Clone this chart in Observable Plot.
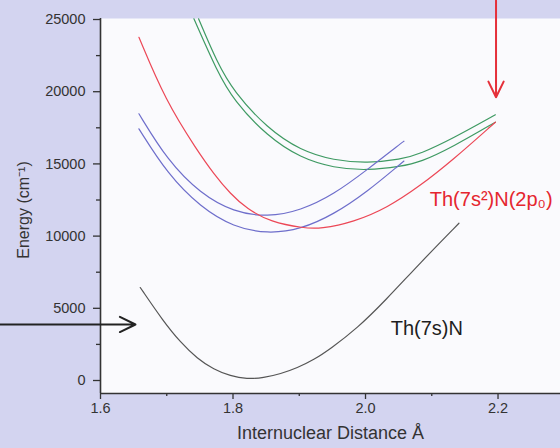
<!DOCTYPE html>
<html>
<head>
<meta charset="utf-8">
<script src="https://cdn.jsdelivr.net/npm/d3@7"></script>
<script src="https://cdn.jsdelivr.net/npm/@observablehq/plot@0.6"></script>
<style>
html, body { margin: 0; padding: 0; background: #d3d4f0; }
#chart svg { display: block; }
</style>
</head>
<body>
<div id="chart"></div>
<script>
// ---- Data ----
const xTicks = [1.6, 1.8, 2.0, 2.2];
const xMinorTicks = [1.7, 1.9, 2.1];
const yTicks = [0, 5000, 10000, 15000, 20000, 25000];
const yMinorTicks = [2500, 7500, 12500, 17500, 22500];

// Th(7s)N ground state (black)
const groundX = [1.660, 1.695, 1.721, 1.746, 1.771, 1.796, 1.821, 1.846, 1.872, 1.897, 1.922, 1.947, 1.988, 2.030, 2.083, 2.141];
const groundY = [6440, 4090, 2630, 1520, 760, 310, 100, 185, 464, 879, 1440, 2195, 3640, 5540, 8170, 10890];

// Th(7s2)N(2p0) (red)
const redX = [1.658, 1.698, 1.746, 1.771, 1.796, 1.821, 1.857, 1.907, 1.932, 1.982, 2.033, 2.083, 2.131, 2.196];
const redY = [23770, 19390, 15930, 14310, 12930, 11890, 10970, 10550, 10500, 10970, 11960, 13500, 15240, 17890];

// blue states
const blueUpperX = [1.658, 1.701, 1.751, 1.801, 1.852, 1.902, 1.952, 2.003, 2.053, 2.058];
const blueUpperY = [18470, 15240, 12930, 11660, 11320, 11770, 12880, 14610, 16410, 16570];
const blueLowerX = [1.658, 1.701, 1.751, 1.801, 1.852, 1.902, 1.952, 2.003, 2.053, 2.058];
const blueLowerY = [17430, 14310, 12000, 10620, 10160, 10460, 11500, 13090, 15010, 15200];

// green states
const greenUpperX = [1.748, 1.776, 1.801, 1.852, 1.902, 1.952, 2.003, 2.053, 2.083, 2.131, 2.196];
const greenUpperY = [25050, 22020, 20010, 17450, 15930, 15240, 15060, 15300, 15700, 16740, 18400];
const greenLowerX = [1.741, 1.776, 1.801, 1.852, 1.902, 1.952, 2.003, 2.053, 2.083, 2.131, 2.196];
const greenLowerY = [25050, 21400, 19390, 16900, 15410, 14720, 14540, 14820, 15120, 16160, 17890];

const stateLabels = ["Th(7s)N", "Th(7s²)N(2p₀)"];
const xTitle = "Internuclear Distance Å";
const yTitle = "Energy (cm⁻¹)";

// ---- Build tables ----
const toRows = (xs, ys) => xs.map((x, i) => ({x, y: ys[i]}));

const lineOpts = {x: "x", y: "y", curve: "basis", strokeWidth: 1.2};
const axisColor = "#333";

const chart = Plot.plot({
  width: 560,
  height: 448,
  marginLeft: 100,
  marginRight: 0,
  marginTop: 18,
  marginBottom: 55,
  x: {domain: [1.6, 2.2943], axis: null},
  y: {domain: [-900, 25070], axis: null},
  style: {
    background: "#d3d4f0",
    fontFamily: "'Liberation Sans', Arial, Helvetica, sans-serif",
    fontSize: "14px",
    color: axisColor
  },
  marks: [
    Plot.frame({fill: "#fafafd", stroke: null}),
    // axis ticks
    Plot.axisY(yTicks, {tickSize: 7, tickFormat: () => "", label: null, stroke: axisColor, strokeWidth: 1.3}),
    Plot.axisY(yMinorTicks, {tickSize: 4, tickFormat: () => "", label: null, stroke: axisColor, strokeWidth: 1.3}),
    Plot.axisX(xTicks, {tickSize: 6, tickFormat: () => "", label: null, stroke: axisColor, strokeWidth: 1.3}),
    Plot.axisX(xMinorTicks, {tickSize: 3, tickFormat: () => "", label: null, stroke: axisColor, strokeWidth: 1.3}),
    Plot.ruleX([1.6], {stroke: axisColor, strokeWidth: 1.6}),
    Plot.ruleY([-900], {stroke: axisColor, strokeWidth: 1.6}),
    // tick labels
    Plot.text(yTicks, {y: d => d, text: d => d3.format("d")(d), frameAnchor: "left", dx: -15, textAnchor: "end", fontSize: 14.5, fill: axisColor}),
    Plot.text(xTicks, {x: d => d, text: d => d3.format(".1f")(d), frameAnchor: "bottom", dy: 19, fontSize: 14.5, fill: axisColor}),
    // axis titles
    Plot.text([yTitle], {frameAnchor: "left", rotate: -90, dx: -77, dy: 4, fontSize: 16, fill: axisColor, textAnchor: "middle"}),
    Plot.text([xTitle], {frameAnchor: "bottom", dy: 45, fontSize: 18, fill: axisColor, textAnchor: "middle"}),
    // curves
    Plot.line(toRows(greenUpperX, greenUpperY), {...lineOpts, stroke: "#3f9a63"}),
    Plot.line(toRows(greenLowerX, greenLowerY), {...lineOpts, stroke: "#3f9a63"}),
    Plot.line(toRows(blueUpperX, blueUpperY), {...lineOpts, stroke: "#6e6ecb"}),
    Plot.line(toRows(blueLowerX, blueLowerY), {...lineOpts, stroke: "#6e6ecb"}),
    Plot.line(toRows(redX, redY), {...lineOpts, stroke: "#ec4756"}),
    Plot.line(toRows(groundX, groundY), {...lineOpts, stroke: "#555"}),
    // arrows
    Plot.arrow([0], {x1: 1.449, y1: 3880, x2: 1.6528, y2: 3880, stroke: "#222", strokeWidth: 2, headLength: 13, headAngle: 52}),
    Plot.arrow([0], {x1: 2.197, y1: 26320, x2: 2.197, y2: 19620, stroke: "#e5303a", strokeWidth: 2, headLength: 13, headAngle: 52}),
    // state labels
    Plot.text([stateLabels[0]], {x: 2.038, y: 3600, text: d => d, textAnchor: "start", fontSize: 20, fill: "#1e1e1e"}),
    Plot.text([stateLabels[1]], {x: 2.097, y: 12520, text: d => d, textAnchor: "start", fontSize: 20, fill: "#e5262f"})
  ]
});

document.getElementById("chart").appendChild(chart);
</script>
</body>
</html>
